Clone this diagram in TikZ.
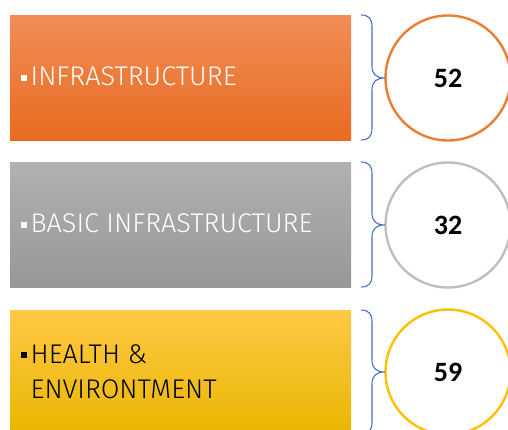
\documentclass[tikz,border=0pt]{standalone}
\usepackage{fontspec}
\newfontfamily\lblfont{Fira Sans Light}
\newfontfamily\numfont{Carlito}
\begin{document}
\begin{tikzpicture}[x=1pt,y=-1pt,
  barbox/.style={minimum width=341pt,minimum height=125pt,inner sep=0pt,anchor=north west},
  lbl/.style={font=\lblfont\fontsize{27}{35}\selectfont,anchor=base west,inner sep=0pt,align=left},
  numcircle/.style={circle,minimum size=125pt,inner sep=0pt,line width=2.4pt,fill=white,font=\numfont\bfseries\fontsize{28}{30}\selectfont},
  bracepath/.style={draw=braceblue,line width=1.1pt}]
\definecolor{otop}{HTML}{F18D58}\definecolor{omid}{HTML}{F47B2C}\definecolor{obot}{HTML}{E86B1F}
\definecolor{gtop}{HTML}{B1B1B1}\definecolor{gmid}{HTML}{A5A5A5}\definecolor{gbot}{HTML}{979797}
\definecolor{ytop}{HTML}{FFC846}\definecolor{ymid}{HTML}{FFC000}\definecolor{ybot}{HTML}{E9B600}
\definecolor{corange}{HTML}{ED7D31}\definecolor{cgray}{HTML}{BFBFBF}\definecolor{cgold}{HTML}{FFC000}
\definecolor{braceblue}{HTML}{4472C4}
\useasboundingbox (0,0) rectangle (508,430);
% bars
\node[barbox,top color=otop,middle color=omid,bottom color=obot] (b1) at (10,15) {};
\node[barbox,top color=gtop,middle color=gmid,bottom color=gbot] (b2) at (10,162) {};
\node[barbox,top color=ytop,middle color=ymid,bottom color=ybot] (b3) at (10,310) {};
% labels
\node[lbl,text=white] (t1) at (21,86) {\rule[5pt]{6pt}{6pt}\hspace{3.5pt}INFRASTRUCTURE};
\node[lbl,text=white] (t2) at (21,233) {\rule[5pt]{6pt}{6pt}\hspace{3.5pt}BASIC INFRASTRUCTURE};
\node[lbl,text=black] (t3) at (21,398) {\rule[5pt]{6pt}{6pt}\hspace{3.5pt}HEALTH \&\\\hspace{9.5pt}ENVIRONTMENT};
% circles
\node[numcircle,draw=corange] (c1) at (448,78) {52};
\node[numcircle,draw=cgray] (c2) at (448,225) {32};
\node[numcircle,draw=cgold] (c3) at (448,372) {59};
% braces
\foreach \ta/\tip/\tb [count=\i] in {15/78/140, 162/225/287, 310/372/434}{
  \coordinate (s\i) at (361,\ta);
  \coordinate (m\i) at (385,\tip);
  \coordinate (e\i) at (361,\tb);
  \path[bracepath] (s\i) .. controls (369,\ta) and (372,\ta+4) .. (372,\ta+12)
    -- (372,\tip-12) .. controls (372,\tip-4) and (376,\tip) .. (m\i)
    .. controls (376,\tip) and (372,\tip+4) .. (372,\tip+12)
    -- (372,\tb-12) .. controls (372,\tb-4) and (369,\tb) .. (e\i);
}
\end{tikzpicture}
\end{document}
